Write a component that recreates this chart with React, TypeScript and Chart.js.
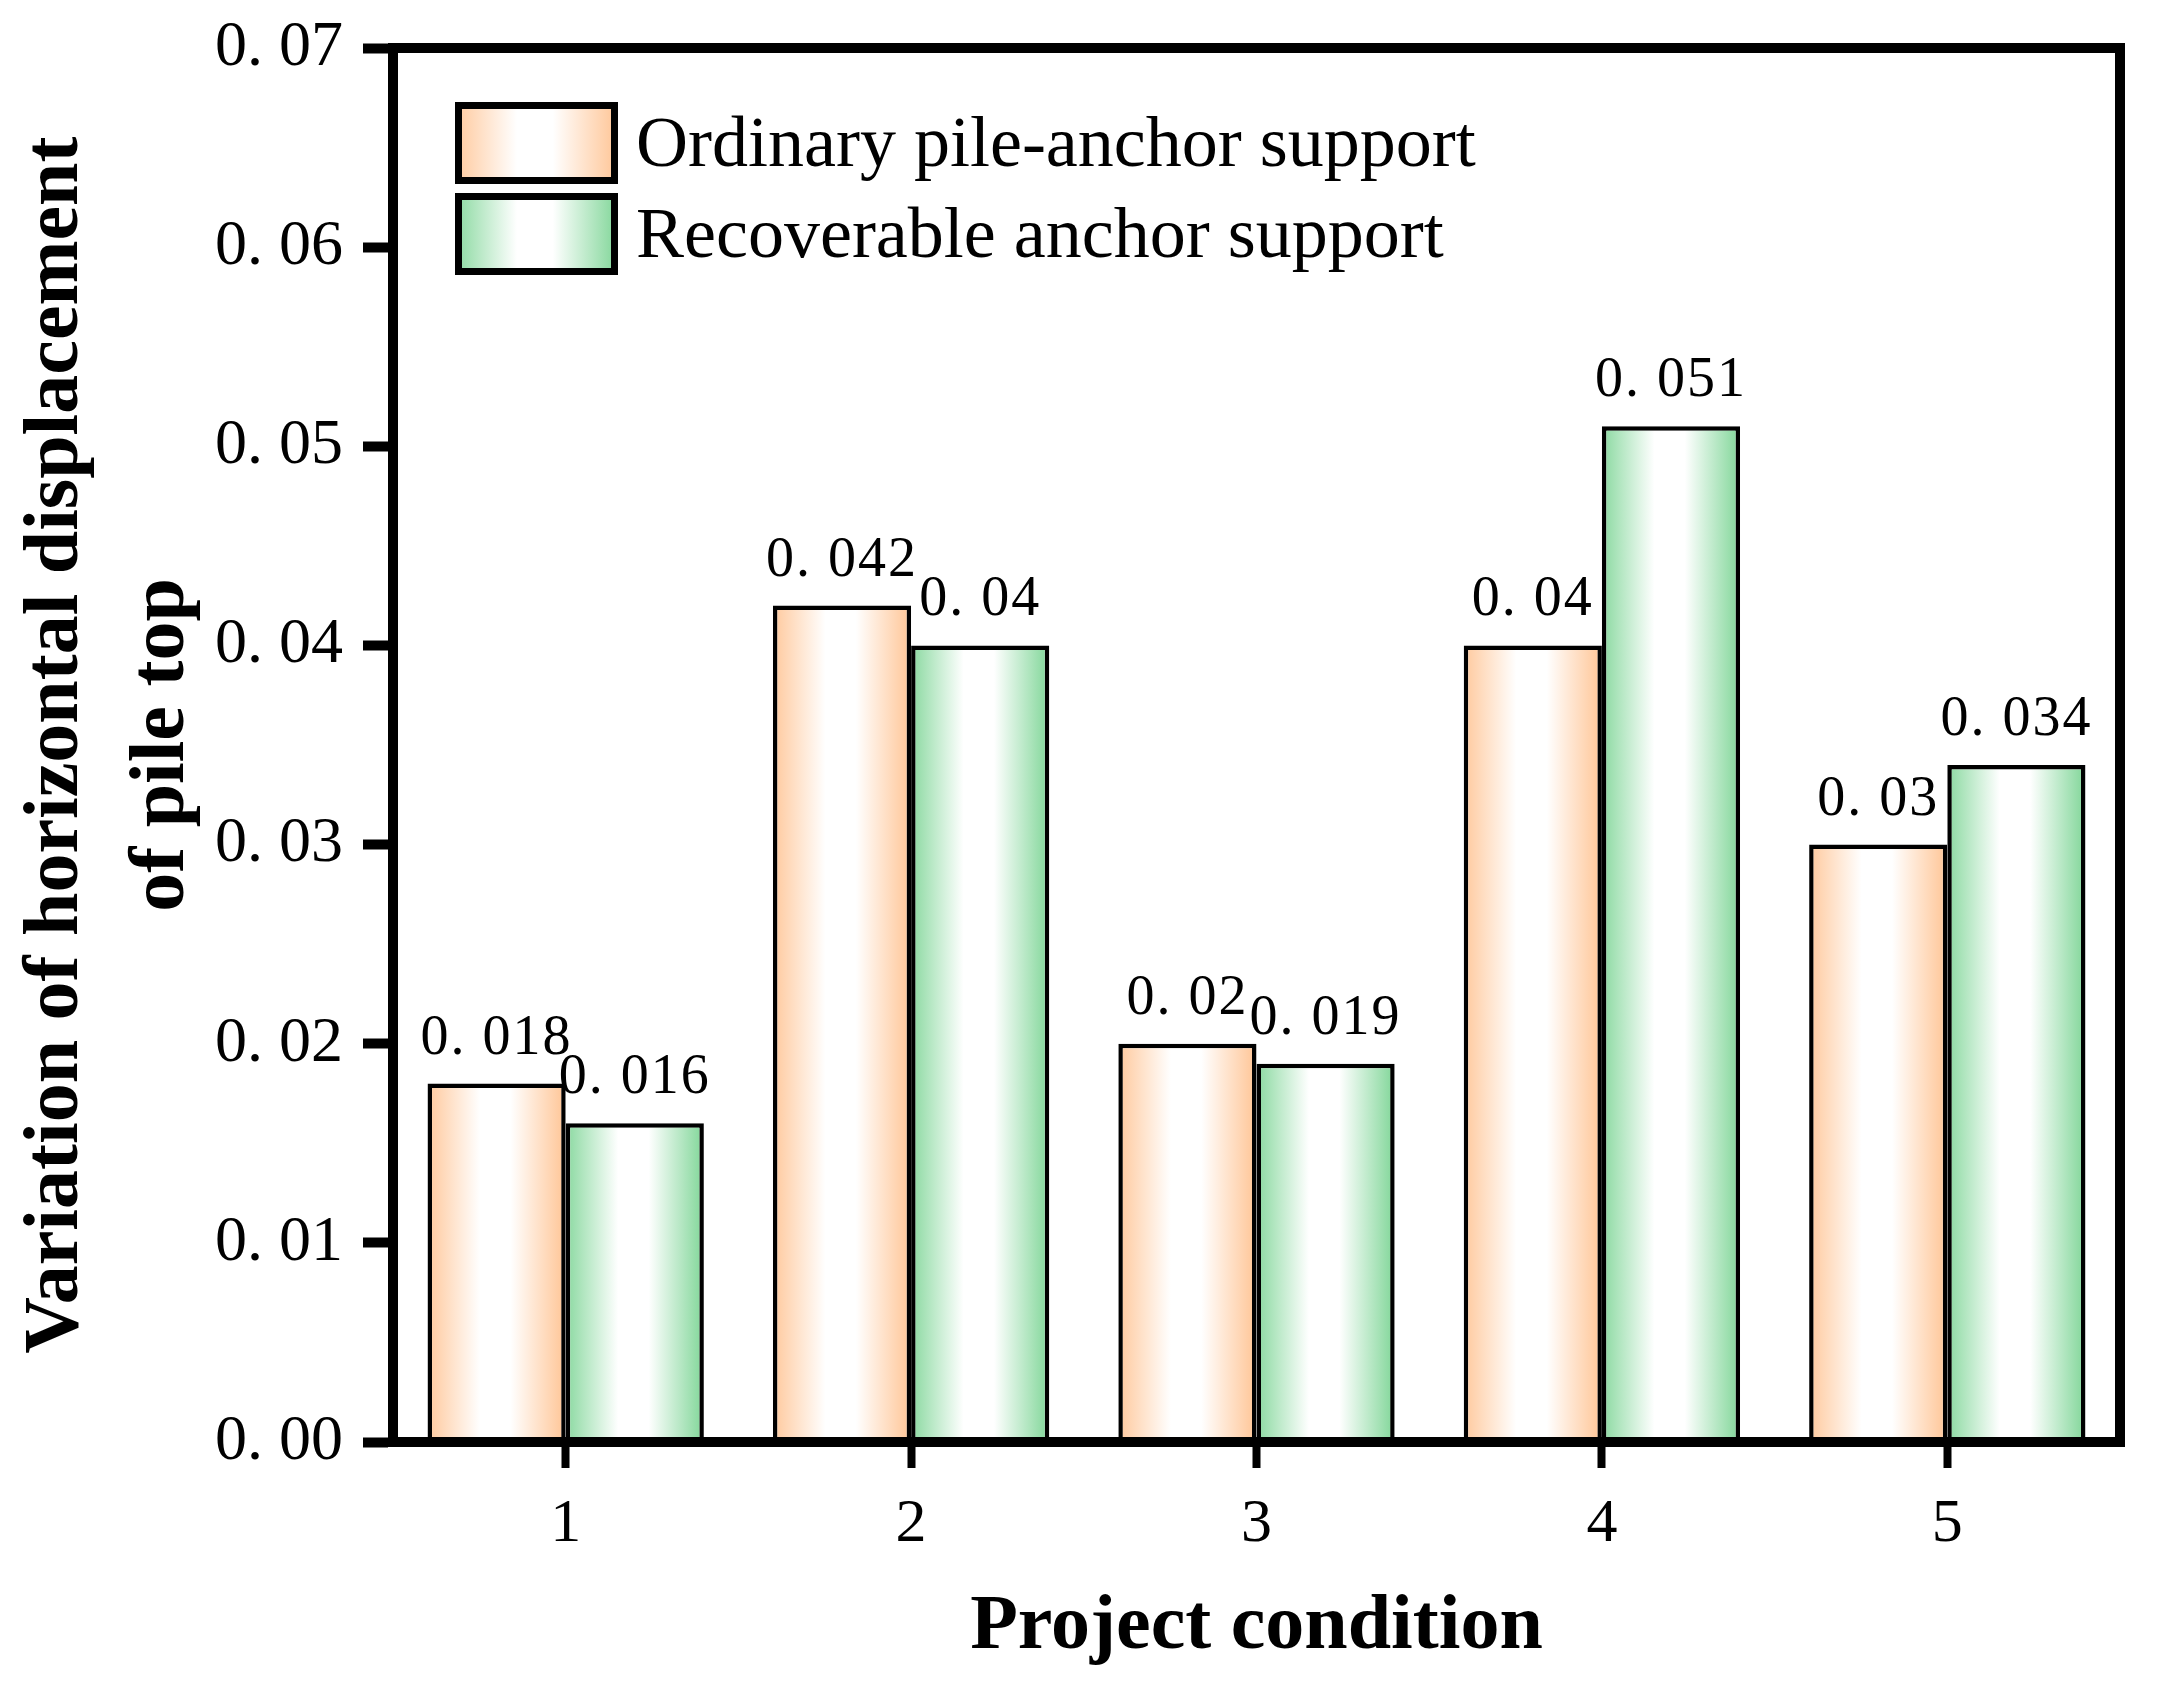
import React, { useEffect, useRef } from 'react';
import Chart from 'chart.js/auto';

// data
const conditions = ['1', '2', '3', '4', '5'];
const ordinarySupport = [0.018, 0.042, 0.02, 0.04, 0.03];
const recoverableSupport = [0.016, 0.04, 0.019, 0.051, 0.034];
const seriesNames = ['Ordinary pile-anchor support', 'Recoverable anchor support'];
const yTickValues = [0, 0.01, 0.02, 0.03, 0.04, 0.05, 0.06, 0.07];

const SERIF = '"Liberation Serif", "Times New Roman", serif';
const ORANGE = 'rgb(255, 201, 157)';
const GREEN = 'rgb(138, 217, 160)';
const CATEGORY_PCT = 0.8;

const fmt = (v: number) => String(v).replace('.', '. ');

const fillGradient = (ctx: CanvasRenderingContext2D, left: number, width: number, edge: string) => {
  const g = ctx.createLinearGradient(left, 0, left + width, 0);
  g.addColorStop(0, edge);
  g.addColorStop(0.38, '#ffffff');
  g.addColorStop(0.6, '#ffffff');
  g.addColorStop(0.97, edge);
  g.addColorStop(1, edge);
  return g;
};

// horizontal white-centre gradient for each bar, placed from the x scale
const barFill = (edge: string) => (c: any) => {
  const chart = c.chart;
  const xs = chart.scales && chart.scales.x;
  if (c.type !== 'data' || !xs || !chart.chartArea) return edge;
  const step = xs.getPixelForValue(1) - xs.getPixelForValue(0);
  const group = step * CATEGORY_PCT;
  const w = group / chart.data.datasets.length;
  const left = xs.getPixelForValue(c.dataIndex) - group / 2 + c.datasetIndex * w;
  if (!isFinite(left) || !isFinite(w) || w <= 0) return edge;
  return fillGradient(chart.ctx, left, w, edge);
};

const framePlugin = {
  id: 'frame',
  afterDraw(chart: any) {
    const { ctx, chartArea: a } = chart;
    ctx.save();
    ctx.strokeStyle = '#000';
    ctx.lineWidth = 10;
    ctx.lineCap = 'square';
    ctx.lineJoin = 'miter';
    ctx.beginPath();
    ctx.moveTo(a.left, a.top);
    ctx.lineTo(a.right, a.top);
    ctx.lineTo(a.right, a.bottom);
    ctx.stroke();
    ctx.restore();
  }
};

const valueLabels = {
  id: 'valueLabels',
  afterDatasetsDraw(chart: any) {
    const { ctx } = chart;
    ctx.save();
    ctx.font = `56px ${SERIF}`;
    ctx.fillStyle = '#000';
    ctx.textAlign = 'center';
    ctx.textBaseline = 'alphabetic';
    ctx.letterSpacing = '2px';
    chart.data.datasets.forEach((ds: any, di: number) => {
      chart.getDatasetMeta(di).data.forEach((bar: any, i: number) => {
        const { x, y } = bar.getProps(['x', 'y'], true);
        ctx.fillText(fmt(ds.data[i]), x, y - 30);
      });
    });
    ctx.restore();
  }
};

const boxLegend = {
  id: 'boxLegend',
  afterDraw(chart: any) {
    const { ctx, chartArea: a } = chart;
    const edges = [ORANGE, GREEN];
    ctx.save();
    seriesNames.forEach((name, i) => {
      const bx = a.left + 62;
      const by = a.top + 54 + i * 91;
      const bw = 163;
      const bh = 82;
      ctx.fillStyle = fillGradient(ctx, bx, bw, edges[i]);
      ctx.fillRect(bx, by, bw, bh);
      ctx.lineWidth = 7;
      ctx.strokeStyle = '#000';
      ctx.strokeRect(bx + 3.5, by + 3.5, bw - 7, bh - 7);
      ctx.fillStyle = '#000';
      ctx.font = `72px ${SERIF}`;
      ctx.textAlign = 'left';
      ctx.textBaseline = 'middle';
      ctx.fillText(name, bx + 181, by + bh / 2 + 4);
    });
    ctx.restore();
  }
};

export default function App() {
  const chartRef = useRef<HTMLCanvasElement | null>(null);

  useEffect(() => {
    document.body.style.margin = '0';
    if (!chartRef.current) return;

    const chart = new Chart(chartRef.current, {
      type: 'bar',
      data: {
        labels: conditions,
        datasets: [
          {
            label: seriesNames[0],
            data: ordinarySupport,
            backgroundColor: barFill(ORANGE),
            borderColor: '#000',
            borderWidth: 4.5,
            borderSkipped: false,
            categoryPercentage: CATEGORY_PCT,
            barPercentage: 1
          },
          {
            label: seriesNames[1],
            data: recoverableSupport,
            backgroundColor: barFill(GREEN),
            borderColor: '#000',
            borderWidth: 4.5,
            borderSkipped: false,
            categoryPercentage: CATEGORY_PCT,
            barPercentage: 1
          }
        ]
      },
      options: {
        responsive: false,
        animation: false,
        layout: { padding: { left: 0, top: 48, right: 43, bottom: 0 } },
        plugins: {
          legend: { display: false },
          tooltip: { enabled: false }
        },
        scales: {
          x: {
            afterFit: (scale: any) => {
              scale.height = 264;
            },
            grid: {
              offset: false,
              drawOnChartArea: false,
              drawTicks: true,
              tickLength: 26,
              tickWidth: 8,
              tickColor: '#000'
            },
            border: { display: true, width: 10, color: '#000' },
            ticks: {
              color: '#000',
              padding: 20,
              font: { family: SERIF, size: 62, lineHeight: 1.2 }
            },
            title: {
              display: true,
              text: 'Project condition',
              color: '#000',
              padding: { top: 0, bottom: 31 },
              font: { family: SERIF, size: 78, weight: 'bold', lineHeight: 1.2 }
            }
          },
          y: {
            min: 0,
            max: 0.07,
            afterFit: (scale: any) => {
              scale.width = 393;
            },
            afterBuildTicks: (scale: any) => {
              scale.ticks = yTickValues.map((v) => ({ value: v }));
            },
            grid: {
              drawOnChartArea: false,
              drawTicks: true,
              tickLength: 30,
              tickWidth: 10,
              tickColor: '#000'
            },
            border: { display: true, width: 10, color: '#000' },
            ticks: {
              color: '#000',
              padding: 20,
              // small line height so the top label does not push the chart area down
              font: { family: SERIF, size: 64, lineHeight: 0.8 },
              callback: (v: any) => Number(v).toFixed(2).replace('.', '. ')
            },
            title: {
              display: true,
              text: ['Variation of horizontal displacement', 'of pile top'],
              color: '#000',
              padding: { top: 3, bottom: 0 },
              font: { family: SERIF, size: 78, weight: 'bold', lineHeight: 1.37 }
            }
          }
        }
      },
      plugins: [valueLabels, framePlugin, boxLegend]
    });

    return () => {
      chart.destroy();
    };
  }, []);

  return (
    <div style={{ width: 2163, height: 1706, background: '#fff' }}>
      <canvas ref={chartRef} width={2163} height={1706} style={{ display: 'block' }} />
    </div>
  );
}
